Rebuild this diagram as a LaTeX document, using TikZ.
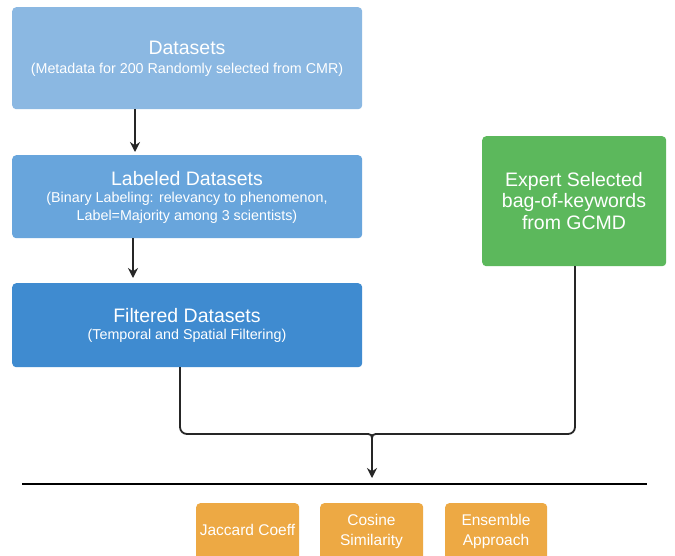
\documentclass[tikz,border=0pt]{standalone}
\usepackage{fontspec}
\setmainfont{Liberation Sans}
\usetikzlibrary{arrows.meta}
\definecolor{bA}{HTML}{8BB8E2}
\definecolor{bB}{HTML}{68A5DC}
\definecolor{bC}{HTML}{3F8BD0}
\definecolor{gr}{HTML}{5CB85C}
\definecolor{orn}{HTML}{EDA944}
\begin{document}
\begin{tikzpicture}[x=1pt,y=-1pt,
  box/.style={rounded corners=4pt, text=white, align=center, inner sep=0pt, anchor=north west},
  conn/.style={draw=black!85, line width=1.8pt},
  tipA/.style={-{Stealth[length=10pt,width=10pt]}},
  ttl/.style={font=\fontsize{19.5}{22}\selectfont},
  sub/.style={font=\fontsize{14.3}{17.5}\selectfont},
  otx/.style={text=white, align=center, font=\fontsize{15.5}{20}\selectfont}]
\useasboundingbox (0,0) rectangle (675,555);
\clip (0,0) rectangle (675,555);
\fill[white] (0,0) rectangle (675,555);
\node[box, fill=bA, minimum width=350pt, minimum height=102pt] (d) at (12,7) {};
\node[ttl, text=white] (dt) at (187,48) {Datasets};
\node[sub, text=white] (ds) at (187,70) {(Metadata for 200 Randomly selected from CMR)};
\node[box, fill=bB, minimum width=350pt, minimum height=83pt] (l) at (12,155) {};
\node[ttl, text=white] (lt) at (187,179) {Labeled Datasets};
\node[sub, text=white, align=center] (ls) at (187,208) {(Binary Labeling: relevancy to phenomenon,\\Label=Majority among 3 scientists)};
\node[box, fill=bC, minimum width=350pt, minimum height=84pt] (f) at (12,283) {};
\node[ttl, text=white] (ft) at (187,316) {Filtered Datasets};
\node[sub, text=white] (fs) at (187,336) {(Temporal and Spatial Filtering)};
\node[box, fill=gr, minimum width=184pt, minimum height=130pt] (g) at (482,136) {};
\node[ttl, text=white, align=center, font=\fontsize{19.5}{21.5}\selectfont] (gt) at (574,201) {Expert Selected\\bag-of-keywords\\from GCMD};
\node[box, fill=orn, minimum width=103pt, minimum height=70pt] (o1) at (196,503) {};
\node[otx] (o1t) at (247.5,530) {Jaccard Coeff};
\node[box, fill=orn, minimum width=103pt, minimum height=70pt] (o2) at (320,503) {};
\node[otx] (o2t) at (371.5,531) {Cosine\\Similarity};
\node[box, fill=orn, minimum width=102pt, minimum height=70pt] (o3) at (445,503) {};
\node[otx] (o3t) at (496,531) {Ensemble\\Approach};
\coordinate (a1) at (135,152);
\coordinate (a2) at (133,278);
\draw[conn, tipA] (d.south -| a1) -- (a1);
\draw[conn, tipA] (l.south -| a2) -- (a2);
\coordinate (fx) at (180,367);
\coordinate (gx) at (575,266);
\coordinate (ml) at (364,434);
\coordinate (mr) at (380,434);
\coordinate (mc) at (372,434);
\coordinate (md) at (372,442);
\coordinate (tip) at (372,478);
\draw[conn, rounded corners=7pt] (fx) |- (ml);
\draw[conn, rounded corners=7pt] (gx) |- (mr);
\draw[conn] (ml) .. controls (mc) .. (md);
\draw[conn] (mr) .. controls (mc) .. (md);
\draw[conn, tipA] (md) -- (tip);
\coordinate (hl) at (22,484);
\coordinate (hr) at (647,484);
\draw[line width=2.2pt] (hl) -- (hr);
\end{tikzpicture}
\end{document}
